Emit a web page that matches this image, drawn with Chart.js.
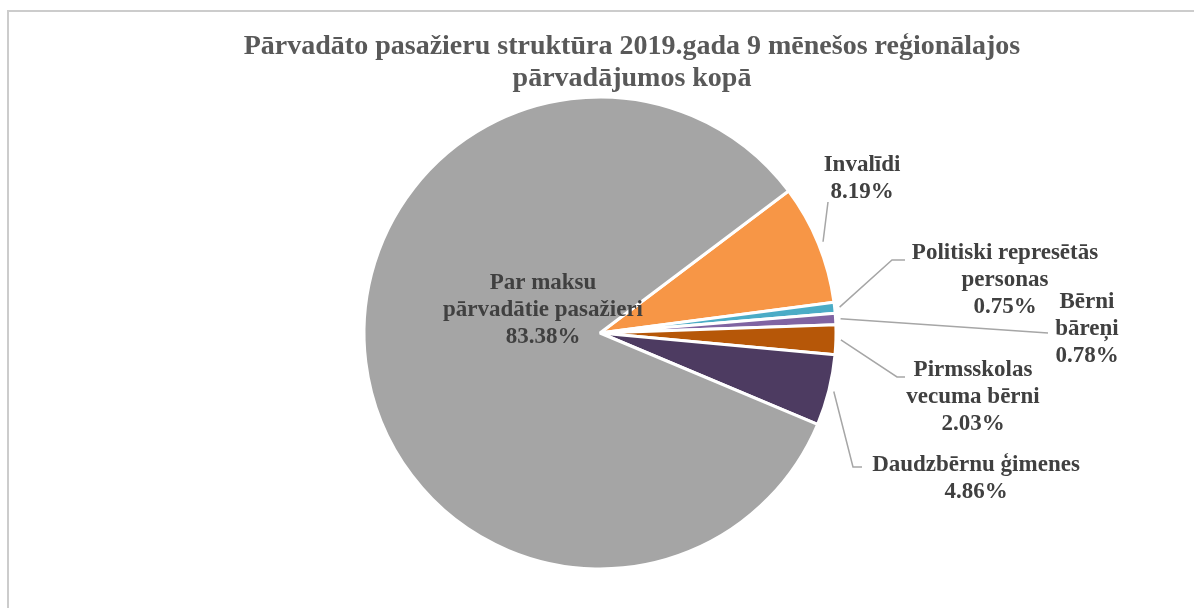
<!DOCTYPE html>
<html>
<head>
<meta charset="utf-8">
<script src="https://cdn.jsdelivr.net/npm/chart.js@4"></script>
<style>
  html, body { margin: 0; padding: 0; background: #fff; }
  #wrap { position: relative; width: 1194px; height: 608px; }
</style>
</head>
<body>
<div id="wrap"><canvas id="pie"></canvas></div>
<script>
// data
const categories = ["Invalīdi", "Politiski represētās personas", "Bērni bāreņi", "Pirmsskolas vecuma bērni", "Daudzbērnu ģimenes", "Par maksu pārvadātie pasažieri"];
const shares = [8.19, 0.75, 0.78, 2.03, 4.86, 83.38];
const titleLines = ["Pārvadāto pasažieru struktūra 2019.gada 9 mēnešos reģionālajos", "pārvadājumos kopā"];

// how each label is wrapped
const labelLines = [["Invalīdi"], ["Politiski represētās", "personas"], ["Bērni", "bāreņi"], ["Pirmsskolas", "vecuma bērni"], ["Daudzbērnu ģimenes"], ["Par maksu", "pārvadātie pasažieri"]];

// styles / placement
const sliceColors = ["#F79646", "#4BACC6", "#8064A2", "#B65708", "#4D3B61", "#A5A5A5"];
const textColor = "#404040";
const FONT = "'Liberation Serif', 'Times New Roman', serif";
// text position (first line centre) and leader path, relative to pie centre
const labelPlace = [
  { tx: 262, ty: -168, path: [[228, -131]] },
  { tx: 405, ty: -80, path: [[292, -73], [305, -73]] },
  { tx: 487, ty: -31, path: [[448, 0]] },
  { tx: 373, ty: 37, path: [[297, 44], [305, 44]] },
  { tx: 376, ty: 132, path: [[253, 134], [262, 134]] },
  { tx: -57, ty: -50, path: null }
];

const labelPlugin = {
  id: "labels",
  beforeDraw(chart) {
    const ctx = chart.ctx;
    ctx.save();
    ctx.strokeStyle = "#CCCCCC";
    ctx.lineWidth = 2;
    ctx.strokeRect(8, 11, 1400, 800);
    ctx.fillStyle = "#595959";
    ctx.font = "bold 28px " + FONT;
    ctx.textAlign = "center";
    ctx.textBaseline = "alphabetic";
    titleLines.forEach((t, i) => ctx.fillText(t, 632, 54 + i * 32));
    ctx.restore();
  },
  afterDraw(chart) {
    const ctx = chart.ctx;
    const meta = chart.getDatasetMeta(0);
    ctx.save();
    meta.data.forEach((arc, i) => {
      const p = arc.getProps(["x", "y", "startAngle", "endAngle", "outerRadius"], true);
      const place = labelPlace[i];
      if (place.path) {
        const mid = (p.startAngle + p.endAngle) / 2;
        ctx.strokeStyle = "#A6A6A6";
        ctx.lineWidth = 1.5;
        ctx.beginPath();
        ctx.moveTo(p.x + Math.cos(mid) * (p.outerRadius + 5), p.y + Math.sin(mid) * (p.outerRadius + 5));
        place.path.forEach(pt => ctx.lineTo(p.x + pt[0], p.y + pt[1]));
        ctx.stroke();
      }
      const lines = labelLines[i].concat([shares[i].toFixed(2) + "%"]);
      ctx.fillStyle = textColor;
      ctx.font = "bold 23px " + FONT;
      ctx.textAlign = "center";
      ctx.textBaseline = "middle";
      lines.forEach((l, k) => ctx.fillText(l, p.x + place.tx, p.y + place.ty + k * 27));
    });
    ctx.restore();
  }
};

new Chart(document.getElementById("pie"), {
  type: "pie",
  data: {
    labels: categories,
    datasets: [{
      data: shares,
      backgroundColor: sliceColors,
      borderColor: "#FFFFFF",
      borderWidth: 3
    }]
  },
  options: {
    responsive: true,
    maintainAspectRatio: false,
    animation: false,
    rotation: 53,
    radius: 236,
    layout: { padding: { left: 364, right: 358, top: 97, bottom: 39 } },
    plugins: {
      legend: { display: false },
      tooltip: { enabled: false },
      title: { display: false }
    }
  },
  plugins: [labelPlugin]
});
</script>
</body>
</html>
